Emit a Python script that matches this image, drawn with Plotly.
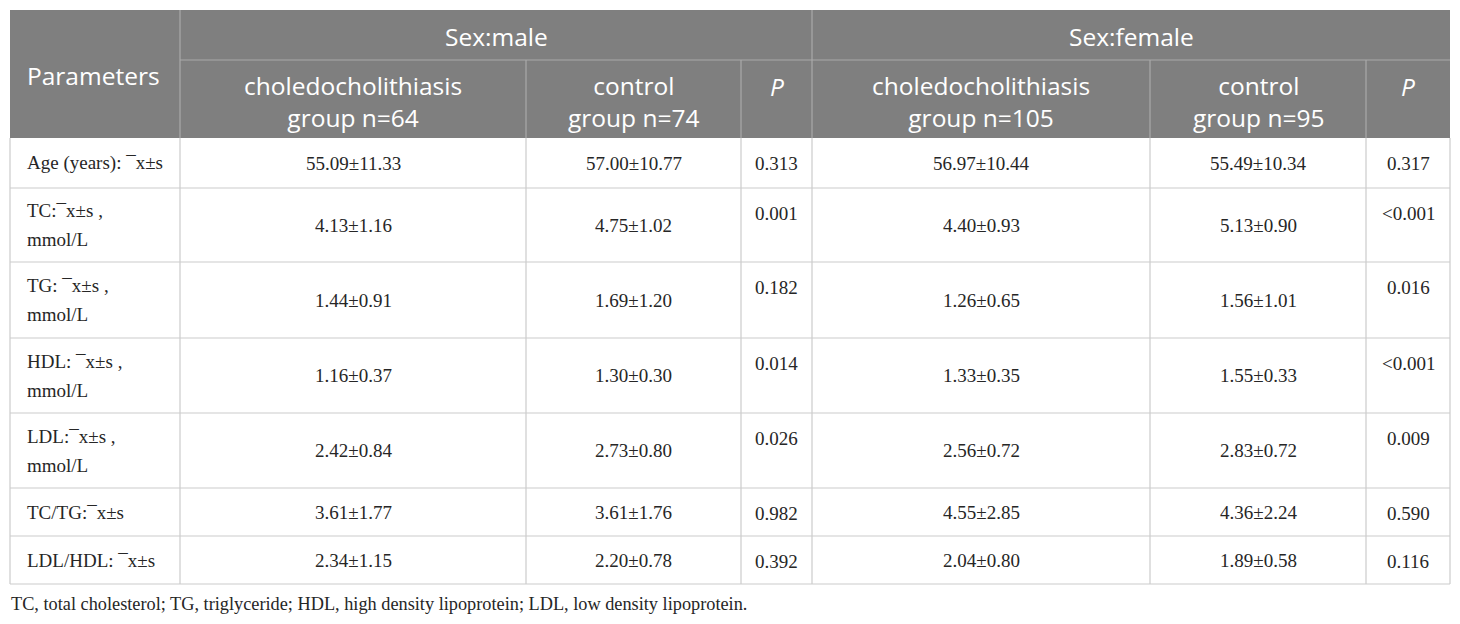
import plotly.graph_objects as go

# ---------------- data ----------------
params = [
    "Age (years): ¯x±s",
    "TC:¯x±s ,\nmmol/L",
    "TG: ¯x±s ,\nmmol/L",
    "HDL: ¯x±s ,\nmmol/L",
    "LDL:¯x±s ,\nmmol/L",
    "TC/TG:¯x±s",
    "LDL/HDL: ¯x±s",
]
male_case = ["55.09±11.33", "4.13±1.16", "1.44±0.91", "1.16±0.37", "2.42±0.84", "3.61±1.77", "2.34±1.15"]
male_ctrl = ["57.00±10.77", "4.75±1.02", "1.69±1.20", "1.30±0.30", "2.73±0.80", "3.61±1.76", "2.20±0.78"]
male_p = ["0.313", "0.001", "0.182", "0.014", "0.026", "0.982", "0.392"]
female_case = ["56.97±10.44", "4.40±0.93", "1.26±0.65", "1.33±0.35", "2.56±0.72", "4.55±2.85", "2.04±0.80"]
female_ctrl = ["55.49±10.34", "5.13±0.90", "1.56±1.01", "1.55±0.33", "2.83±0.72", "4.36±2.24", "1.89±0.58"]
female_p = ["0.317", "<0.001", "0.016", "<0.001", "0.009", "0.590", "0.116"]

group_headers = ["Sex:male", "Sex:female"]
sub_headers = [
    "choledocholithiasis<br>group n=64", "control<br>group n=74", "<i>P</i>",
    "choledocholithiasis<br>group n=105", "control<br>group n=95", "<i>P</i>",
]
corner_header = "Parameters"
footnote = "TC, total cholesterol; TG, triglyceride; HDL, high density lipoprotein; LDL, low density lipoprotein."

# ---------------- layout geometry ----------------
W, H = 1460, 624
col_edges = [10, 180, 526, 741, 812, 1150, 1366, 1450]
hdr_edges = [10, 60, 138]
row_edges = [138, 188, 262, 338, 413, 488, 536, 584]

HDR_BG = "#7f7f7f"
HDR_LINE = "#a9a9a9"
BODY_LINE = "#cccccc"
TXT = "#262626"
SERIF = "Liberation Serif, Times New Roman, serif"
SANS = "Open Sans, Noto Sans, sans-serif"
BODY_SIZE = 19
HDR_SIZE = 24.5

shapes = []
annotations = []


def line(x0, y0, x1, y1, color, w=1.2):
    shapes.append(dict(type="line", xref="x", yref="y", x0=x0, y0=y0, x1=x1, y1=y1,
                       line=dict(color=color, width=w), layer="above"))


def text(x, y, s, size, color, family, xanchor="center"):
    annotations.append(dict(x=x, y=y, xref="x", yref="y", text=s, showarrow=False,
                            xanchor=xanchor, yanchor="middle",
                            font=dict(size=size, color=color, family=family)))


def multiline(x, yc, s, size, color, family, spacing, xanchor="center"):
    lines = s.split("\n")
    n = len(lines)
    for i, ln in enumerate(lines):
        y = yc + (i - (n - 1) / 2) * spacing
        text(x, y, ln, size, color, family, xanchor)


# header background
shapes.append(dict(type="rect", xref="x", yref="y", x0=col_edges[0], x1=col_edges[-1],
                   y0=hdr_edges[0], y1=hdr_edges[-1], fillcolor=HDR_BG,
                   line=dict(width=0), layer="below"))

# header lines
line(col_edges[1], hdr_edges[0], col_edges[1], hdr_edges[2], HDR_LINE)
line(col_edges[4], hdr_edges[0], col_edges[4], hdr_edges[2], HDR_LINE)
line(col_edges[1], hdr_edges[1], col_edges[-1], hdr_edges[1], HDR_LINE)
for c in (2, 3, 5, 6):
    line(col_edges[c], hdr_edges[1], col_edges[c], hdr_edges[2], HDR_LINE)

# body grid
for y in row_edges[1:]:
    line(col_edges[0], y, col_edges[-1], y, BODY_LINE)
for x in col_edges:
    line(x, row_edges[0], x, row_edges[-1], BODY_LINE)

# header texts
text(col_edges[0] + 15, 75, corner_header, HDR_SIZE, "white", SANS, "left")
text((col_edges[1] + col_edges[4]) / 2, 36, group_headers[0], HDR_SIZE, "white", SANS)
text((col_edges[4] + col_edges[7]) / 2, 36, group_headers[1], HDR_SIZE, "white", SANS)
for i, s in enumerate(sub_headers):
    xc = (col_edges[i + 1] + col_edges[i + 2]) / 2
    if "<br>" in s:
        text(xc, 101, s, HDR_SIZE, "white", SANS)
    else:
        text(xc, 86, s, HDR_SIZE, "white", SANS)

# body texts
cols = [male_case, male_ctrl, male_p, female_case, female_ctrl, female_p]
for r in range(len(params)):
    top, bot = row_edges[r], row_edges[r + 1]
    yc = (top + bot) / 2
    multiline(col_edges[0] + 15, yc, params[r], BODY_SIZE, TXT, SERIF, 29, "left")
    for c, vals in enumerate(cols):
        xc = (col_edges[c + 1] + col_edges[c + 2]) / 2
        if c in (2, 5):
            text(xc, top + 25, vals[r], BODY_SIZE, TXT, SERIF)
        else:
            text(xc, yc, vals[r], BODY_SIZE, TXT, SERIF)

# footnote
text(col_edges[0] - 1, 604, footnote, 18.3, TXT, SERIF, "left")

fig = go.Figure()
fig.update_layout(
    width=W, height=H,
    margin=dict(l=0, r=0, t=0, b=0),
    paper_bgcolor="white", plot_bgcolor="white",
    xaxis=dict(range=[0, W], visible=False, fixedrange=True),
    yaxis=dict(range=[H, 0], visible=False, fixedrange=True),
    shapes=shapes, annotations=annotations, showlegend=False,
)
fig.write_html(
    "out.html",
    config={"displayModeBar": False},
    post_script="document.body.style.margin='0px';document.body.style.overflow='hidden';",
)
